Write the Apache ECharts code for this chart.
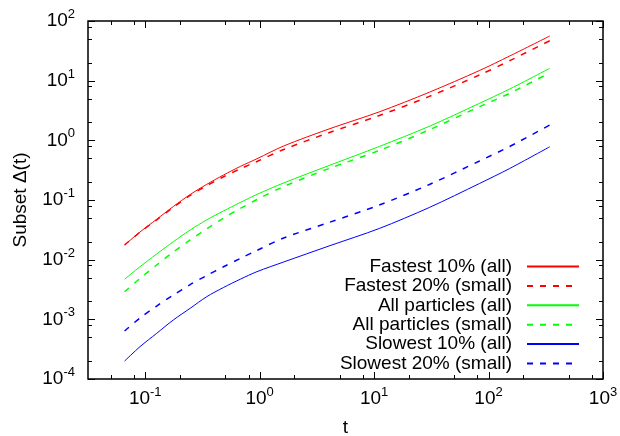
<!DOCTYPE html>
<html>
<head>
<meta charset="utf-8">
<script src="https://cdn.jsdelivr.net/npm/echarts@6/dist/echarts.min.js"></script>
<style>
html,body{margin:0;padding:0;background:#fff;}
#chart{width:620px;height:436px;}
</style>
</head>
<body>
<div id="chart"></div>
<script>
// ---- data ----
const tValues = [0.066, 0.09, 0.126, 0.176, 0.247, 0.345, 0.483, 0.677, 0.947, 1.62, 4.03, 11.1, 30.4, 83.4, 153, 343];
const fastest10All   = [0.0176, 0.0291, 0.0475, 0.0778, 0.1236, 0.183, 0.262, 0.365, 0.491, 0.804, 1.549, 3.0, 6.4, 14.81, 25.9, 56.07];
const fastest20Small = [0.0176, 0.0288, 0.0466, 0.0755, 0.119, 0.174, 0.245, 0.333, 0.442, 0.701, 1.343, 2.6, 5.45, 12.45, 21.61, 46.77];
const allAll         = [0.00469, 0.00762, 0.01245, 0.0200, 0.0314, 0.0465, 0.0655, 0.0908, 0.124, 0.193, 0.378, 0.789, 1.72, 4.178, 7.25, 16.12];
const allSmall       = [0.00290, 0.00484, 0.00815, 0.01346, 0.0214, 0.0327, 0.0499, 0.0721, 0.1021, 0.168, 0.337, 0.676, 1.50, 3.664, 6.14, 13.6];
const slowest10All   = [0.000200, 0.000348, 0.000583, 0.000975, 0.001531, 0.002399, 0.00342, 0.00470, 0.006295, 0.009141, 0.01694, 0.03334, 0.075, 0.1892, 0.3373, 0.7816];
const slowest20Small = [0.000638, 0.001054, 0.00167, 0.00255, 0.00382, 0.00543, 0.0076, 0.01047, 0.0143, 0.02307, 0.04198, 0.0824, 0.182, 0.4508, 0.789, 1.807];

const seriesNames = [
  'Fastest 10% (all)', 'Fastest 20% (small)',
  'All particles (all)', 'All particles (small)',
  'Slowest 10% (all)', 'Slowest 20% (small)'
];
const seriesValues = [fastest10All, fastest20Small, allAll, allSmall, slowest10All, slowest20Small];
const seriesColors = ['#ff0000', '#ff0000', '#00ff00', '#00ff00', '#0000ff', '#0000ff'];
const seriesDashed = [false, true, false, true, false, true];

const xMin = Math.pow(10, -1.5), xMax = 1000;
const yMin = 1e-4, yMax = 100;
const xMajorTicks = [0.1, 1, 10, 100, 1000];
const xMinorTicks = [0.05, 0.08, 0.2, 0.5, 0.8, 2, 5, 8, 20, 50, 80, 200, 500, 800];
const yMajorTicks = [1e-4, 1e-3, 1e-2, 1e-1, 1, 10, 100];
const yMinorTicks = [2e-4, 5e-4, 8e-4, 2e-3, 5e-3, 8e-3, 2e-2, 5e-2, 8e-2, 0.2, 0.5, 0.8, 2, 5, 8, 20, 50, 80];

const FONT = '"Liberation Sans", Arial, Helvetica, sans-serif';

function powLabel(v) {
  const e = Math.log10(v);
  const r = Math.round(e);
  if (Math.abs(e - r) > 1e-6) return '';
  return '{b|10}{s|' + r + '}';
}
const richLabel = {
  b: { fontSize: 19, lineHeight: 26, fontFamily: FONT, color: '#000' },
  s: { fontSize: 13, lineHeight: 13, verticalAlign: 'top', fontFamily: FONT, color: '#000' }
};

const chart = echarts.init(document.getElementById('chart'), null, { renderer: 'canvas' });

const series = seriesNames.map((name, i) => ({
  name: name,
  type: 'line',
  symbol: 'none',
  smooth: 0.3,
  color: seriesColors[i],
  lineStyle: {
    color: seriesColors[i],
    width: seriesDashed[i] ? 1.5 : 1,
    type: seriesDashed[i] ? [6, 7] : 'solid'
  },
  data: tValues.map((t, k) => [t, seriesValues[i][k]]),
  z: 3
}));

series.push({
  type: 'custom',
  silent: true,
  clip: false,
  z: 5,
  data: [[1, 1]],
  renderItem: function (params, api) {
    const children = [];
    const add = (x1, y1, x2, y2) => children.push({
      type: 'line',
      shape: { x1: x1, y1: y1, x2: x2, y2: y2 },
      style: { stroke: '#000', lineWidth: 1 }
    });
    const bl = api.coord([xMin, yMin]);
    const tr = api.coord([xMax, yMax]);
    const left = bl[0], bottom = bl[1], right = tr[0], top = tr[1];
    const drawX = (vals, len) => vals.forEach(v => {
      const x = Math.round(api.coord([v, yMin])[0]) + 0.5;
      add(x, bottom, x, bottom - len);
      add(x, top, x, top + len);
    });
    const drawY = (vals, len) => vals.forEach(v => {
      const y = Math.round(api.coord([xMin, v])[1]) + 0.5;
      add(left, y, left + len, y);
      add(right, y, right - len, y);
    });
    drawX(xMajorTicks, 7); drawX(xMinorTicks, 4);
    drawY(yMajorTicks, 7); drawY(yMinorTicks, 4);
    return { type: 'group', children: children };
  }
});

chart.setOption({
  animation: false,
  backgroundColor: '#fff',
  textStyle: { fontFamily: FONT },
  grid: {
    left: 88, right: 17, top: 21, bottom: 57,
    show: true, borderColor: '#000', borderWidth: 1.5,
    containLabel: false, outerBoundsMode: 'none'
  },
  xAxis: {
    type: 'log', logBase: 10, min: xMin, max: xMax,
    name: 't', nameLocation: 'middle', nameGap: 39,
    nameTextStyle: { fontSize: 19, color: '#000', fontFamily: FONT },
    axisLine: { show: false },
    axisTick: { show: false },
    splitLine: { show: false },
    minorTick: { show: false },
    axisLabel: { formatter: powLabel, rich: richLabel, margin: 7, color: '#000', hideOverlap: false }
  },
  yAxis: {
    type: 'log', logBase: 10, min: yMin, max: yMax,
    name: 'Subset Δ(t)', nameLocation: 'middle', nameGap: 58, nameRotate: 90,
    nameTextStyle: { fontSize: 19, color: '#000', fontFamily: FONT },
    axisLine: { show: false },
    axisTick: { show: false },
    splitLine: { show: false },
    minorTick: { show: false },
    axisLabel: { formatter: powLabel, rich: richLabel, margin: 13, color: '#000', hideOverlap: false }
  },
  legend: {
    orient: 'vertical',
    right: 40,
    top: 257,
    align: 'right',
    padding: 0,
    itemWidth: 52,
    itemHeight: 14,
    itemGap: 0.4,
    selectedMode: false,
    itemStyle: { opacity: 0 },
    textStyle: { fontSize: 19, lineHeight: 19, color: '#000', fontFamily: FONT, padding: [0, 10, 0, 0] },
    data: seriesNames
  },
  series: series
});
</script>
</body>
</html>
